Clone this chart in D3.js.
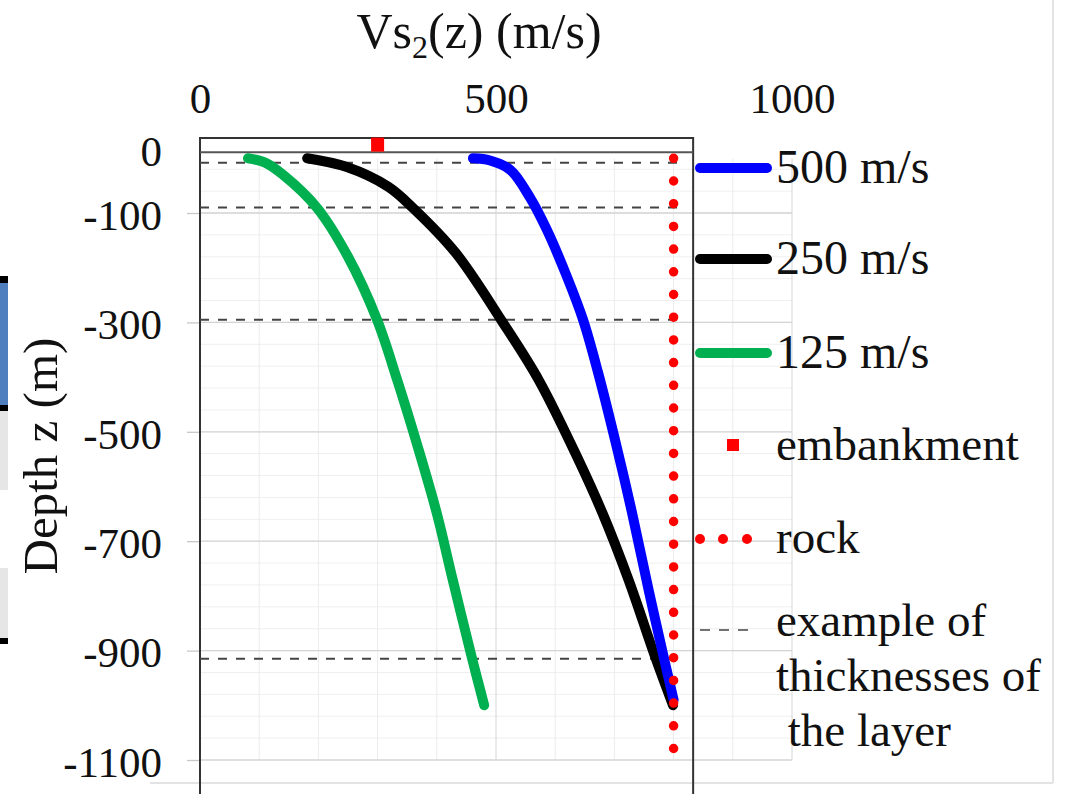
<!DOCTYPE html>
<html>
<head>
<meta charset="utf-8">
<style>
  body { margin: 0; background: #fff; }
  text { font-family: "Liberation Serif", "Times New Roman", serif; fill: #111; }
</style>
<script src="https://cdn.jsdelivr.net/npm/d3@7"></script>
</head>
<body>
<script>
'use strict';

// axis ticks
var vsTicks = [0, 500, 1000];
var depthTicks = [0, -100, -300, -500, -700, -900, -1100];

// Vs profiles, [Vs (m/s), z (m)]
var vs500 = [[461, 0], [490, -4], [524, -21], [557, -71], [586, -131], [620, -217],
  [647, -295], [672, -390], [704, -528], [730, -649], [758, -790], [785, -920], [800, -990]];
var vs250 = [[181, 0], [248, -16], [318, -52], [360, -91], [432, -173], [509, -296],
  [572, -405], [637, -546], [680, -649], [724, -771], [769, -912], [799, -1000]];
var vs125 = [[81, 0], [110, -8], [140, -30], [198, -91], [250, -180], [299, -295],
  [333, -405], [368, -528], [400, -649], [427, -771], [459, -912], [480, -1000]];

var seriesNames = ['500 m/s', '250 m/s', '125 m/s'];
var seriesColors = ['#0000ff', '#000000', '#00b050'];

var rock = [[800, 0], [800, -1080]];
var embankment = [[300, 25]];
var layerDepths = [-8, -90, -295, -915];

build();

function build() {

  var width = 1066,
    height = 794;

  var svg = d3.select('body').append('svg')
    .attr('width', width)
    .attr('height', height);

  svg.append('rect').attr('width', width).attr('height', height).attr('fill', '#fff');

  var x = d3.scaleLinear().domain([0, 1000]).range([200, 792]),
    y = d3.scaleLinear().domain([0, -1100]).range([158.3, 760]);

  // scraps of the page on the left edge
  var scraps = [[276, 283, '#000'], [283, 405, '#4f7fbf'], [405, 411, '#000'],
    [411, 490, '#e6e6e6'], [568, 638, '#e6e6e6'], [638, 644, '#000']];
  svg.selectAll('rect.scrap').data(scraps).enter().append('rect')
    .attr('x', 0).attr('width', 8)
    .attr('y', function(d) { return d[0]; })
    .attr('height', function(d) { return d[1] - d[0]; })
    .attr('fill', function(d) { return d[2]; });

  // outer frame of the excel chart
  svg.append('line').attr('x1', 1053).attr('x2', 1053).attr('y1', 0).attr('y2', 783)
    .attr('stroke', '#e3e3e3').attr('stroke-width', 2);
  svg.append('line').attr('x1', 150).attr('x2', 1053).attr('y1', 783).attr('y2', 783)
    .attr('stroke', '#e3e3e3').attr('stroke-width', 2);

  // grid
  var grid = svg.append('g');
  var minor = d3.range(-1060, 0, 40);
  grid.selectAll('line.hmin').data(minor).enter().append('line')
    .attr('x1', x(0)).attr('x2', x(1000))
    .attr('y1', function(d) { return y(d); }).attr('y2', function(d) { return y(d); })
    .attr('stroke', '#efefef').attr('stroke-width', 1);
  grid.selectAll('line.vmin').data(d3.range(100, 1001, 100)).enter().append('line')
    .attr('y1', y(0)).attr('y2', y(-1100))
    .attr('x1', function(d) { return x(d); }).attr('x2', function(d) { return x(d); })
    .attr('stroke', function(d) { return d % 500 === 0 ? '#d6d6d6' : '#ececec'; })
    .attr('stroke-width', 1);
  grid.selectAll('line.hmaj').data(depthTicks.slice(1)).enter().append('line')
    .attr('x1', x(0)).attr('x2', x(1000))
    .attr('y1', function(d) { return y(d); }).attr('y2', function(d) { return y(d); })
    .attr('stroke', '#d4d4d4').attr('stroke-width', 1.3);

  var plain = function(d) { return String(d); };

  // axes
  var xAxis = svg.append('g')
    .attr('transform', 'translate(0,' + 113 + ')')
    .call(d3.axisTop(x).tickValues(vsTicks).tickFormat(plain).tickSize(0).tickPadding(0));
  xAxis.select('.domain').remove();
  xAxis.selectAll('text').attr('font-size', 43).attr('font-family', 'Liberation Serif').attr('fill', '#111');

  var yAxis = svg.append('g')
    .attr('transform', 'translate(' + x(0) + ',0)')
    .call(d3.axisLeft(y).tickValues(depthTicks).tickFormat(plain).tickSize(13).tickPadding(25));
  yAxis.select('.domain').remove();
  yAxis.selectAll('line').attr('stroke', '#c8c8c8').attr('stroke-width', 1.3);
  yAxis.selectAll('text').attr('font-size', 43).attr('font-family', 'Liberation Serif')
    .attr('fill', '#111').attr('dy', '0.38em');
  yAxis.selectAll('.tick').filter(function(d) { return d === 0; })
    .each(function() {
      d3.select(this).select('line').remove();
      d3.select(this).select('text').attr('y', -9);
    });

  svg.append('text').attr('x', 479).attr('y', 48).attr('text-anchor', 'middle')
    .attr('font-size', 50)
    .html('Vs<tspan font-size="32" dy="10">2</tspan><tspan dy="-10">(z) (m/s)</tspan>');

  svg.append('text')
    .attr('transform', 'translate(57,456) rotate(-90)')
    .attr('text-anchor', 'middle').attr('font-size', 49)
    .text('Depth z (m)');

  // black frame drawn over the plot
  var frame = svg.append('g').attr('fill', 'none');
  frame.append('path')
    .attr('d', 'M' + x(0) + ',' + height + 'V' + y(37) + 'H' + x(833) + 'V' + height)
    .attr('stroke', '#333').attr('stroke-width', 2);
  frame.append('line').attr('x1', x(0)).attr('x2', x(833))
    .attr('y1', y(11)).attr('y2', y(11))
    .attr('stroke', '#555').attr('stroke-width', 2);

  // layer thickness examples
  svg.selectAll('line.layer').data(layerDepths).enter().append('line')
    .attr('x1', x(0)).attr('x2', x(820))
    .attr('y1', function(d) { return y(d); }).attr('y2', function(d) { return y(d); })
    .attr('stroke', '#444').attr('stroke-width', 2).attr('stroke-dasharray', '9 9');

  var line = d3.line()
    .x(function(d) { return x(d[0]); })
    .y(function(d) { return y(d[1]); })
    .curve(d3.curveCatmullRom.alpha(0.5));

  var profiles = [vs500, vs250, vs125];

  // draw from the back: green, black, blue
  [2, 1, 0].forEach(function(i) {
    svg.append('path').datum(profiles[i])
      .attr('d', line)
      .attr('fill', 'none')
      .attr('stroke', seriesColors[i])
      .attr('stroke-width', 10)
      .attr('stroke-linecap', 'round')
      .attr('stroke-linejoin', 'round');
  });

  svg.append('path').datum(rock)
    .attr('d', d3.line().x(function(d) { return x(d[0]); }).y(function(d) { return y(d[1]); }))
    .attr('fill', 'none').attr('stroke', '#ff0000').attr('stroke-width', 9.5)
    .attr('stroke-linecap', 'round').attr('stroke-dasharray', '0 22.7');

  svg.selectAll('rect.emb').data(embankment).enter().append('rect')
    .attr('x', function(d) { return x(d[0]) - 6.5; })
    .attr('y', function(d) { return y(d[1]) - 7; })
    .attr('width', 13).attr('height', 14)
    .attr('fill', '#ff0000');

  // legend
  var legend = svg.append('g');
  var rowY = [168, 259, 353];
  seriesNames.forEach(function(name, i) {
    legend.append('line').attr('x1', 700).attr('x2', 767)
      .attr('y1', rowY[i]).attr('y2', rowY[i])
      .attr('stroke', seriesColors[i]).attr('stroke-width', 10).attr('stroke-linecap', 'round');
    legend.append('text').attr('x', 776).attr('y', rowY[i] + 15)
      .attr('font-size', 48).text(name);
  });

  legend.append('rect').attr('x', 727).attr('y', 439).attr('width', 12).attr('height', 12)
    .attr('fill', '#ff0000');
  legend.append('text').attr('x', 776).attr('y', 460).attr('font-size', 47).text('embankment');

  [700, 723, 747].forEach(function(cx) {
    legend.append('circle').attr('cx', cx).attr('cy', 539).attr('r', 5).attr('fill', '#ff0000');
  });
  legend.append('text').attr('x', 776).attr('y', 553).attr('font-size', 47).text('rock');

  legend.append('line').attr('x1', 700).attr('x2', 748).attr('y1', 630).attr('y2', 630)
    .attr('stroke', '#444').attr('stroke-width', 1.5).attr('stroke-dasharray', '10 9');
  var lines = ['example of', 'thicknesses of', '\u00a0the layer'];
  lines.forEach(function(t, i) {
    legend.append('text').attr('x', 776).attr('y', 636 + i * 55).attr('font-size', 47).text(t);
  });
}
</script>
</body>
</html>
